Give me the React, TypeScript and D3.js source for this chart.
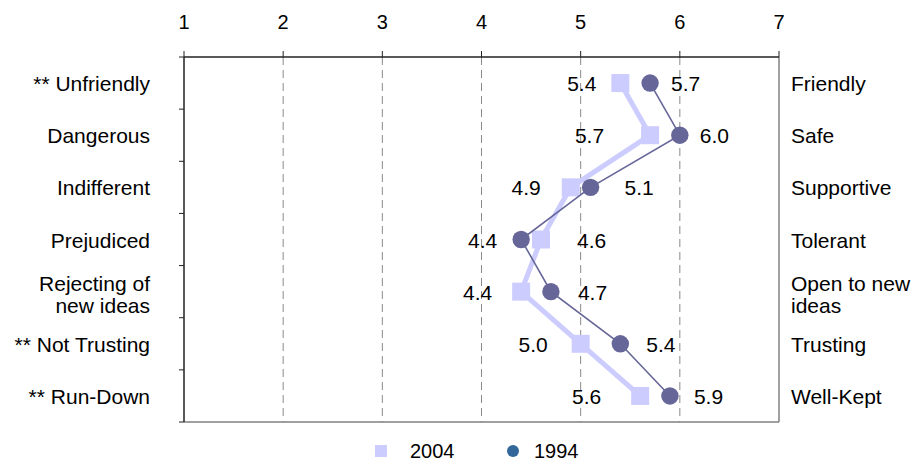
import React from "react";
import * as d3 from "d3";

const leftCategories = ["** Unfriendly", "Dangerous", "Indifferent", "Prejudiced", "Rejecting of\nnew ideas", "** Not Trusting", "** Run-Down"];
const rightCategories = ["Friendly", "Safe", "Supportive", "Tolerant", "Open to new\nideas", "Trusting", "Well-Kept"];
const values2004 = [5.4, 5.7, 4.9, 4.6, 4.4, 5.0, 5.6];
const values1994 = [5.7, 6.0, 5.1, 4.4, 4.7, 5.4, 5.9];
const xTicks = [1, 2, 3, 4, 5, 6, 7];
const seriesNames = ["2004", "1994"];

// layout: pixel gaps of value labels from markers (left label end / right label start)
const leftLabelGap = [24, 46, 30, 24, 29, 33, 39];
const rightLabelGap = [21, 20, 34, 36, 27, 26, 24];

const W = 912, H = 463;
const plot = { left: 184, right: 779, top: 57, bottom: 422 };
const FONT = "Arial, 'Liberation Sans', sans-serif";

export default function App() {
  const x = d3.scaleLinear().domain([1, 7]).range([plot.left, plot.right]);
  const y = d3.scaleBand<number>().domain(d3.range(leftCategories.length)).range([plot.top, plot.bottom]);
  const cy = (i: number) => (y(i) as number) + y.bandwidth() / 2;

  const line = d3.line<number>().x((v) => x(v)).y((_, i) => cy(i));

  const lightCol = "#CCCCFF";
  const darkCol = "#666699";

  const renderMulti = (txt: string, tx: number, ty: number, anchor: string, key: string) => {
    const lines = txt.split("\n");
    const base = lines.length > 1 ? ty - 1 : ty + 8;
    return (
      <text key={key} x={tx} y={base} textAnchor={anchor} fontSize={21} fontFamily={FONT} fill="#000">
        {lines.map((l, k) => (
          <tspan key={k} x={tx} dy={k === 0 ? 0 : 22}>{l}</tspan>
        ))}
      </text>
    );
  };

  return (
    <svg width={W} height={H} style={{ position: "absolute", left: 0, top: 0, background: "#fff" }}>
      {/* gridlines */}
      {xTicks.slice(1, -1).map((t) => (
        <line key={"g" + t} x1={x(t)} x2={x(t)} y1={plot.top} y2={plot.bottom} stroke="#8a8a8a" strokeWidth={1} strokeDasharray="8,5" />
      ))}
      {/* frame */}
      <line x1={plot.right} x2={plot.right} y1={plot.top} y2={plot.bottom} stroke="#808080" strokeWidth={1.5} />
      <line x1={plot.left} x2={plot.right} y1={plot.bottom} y2={plot.bottom} stroke="#808080" strokeWidth={1.5} />
      <line x1={plot.left} x2={plot.right} y1={plot.top} y2={plot.top} stroke="#222" strokeWidth={1.5} />
      <line x1={plot.left} x2={plot.left} y1={plot.top} y2={plot.bottom} stroke="#222" strokeWidth={1.5} />
      {/* top ticks */}
      {xTicks.map((t) => (
        <g key={"t" + t}>
          <line x1={x(t)} x2={x(t)} y1={plot.top - 6} y2={plot.top} stroke="#222" strokeWidth={1} />
          <text x={x(t)} y={29} textAnchor="middle" fontSize={20} fontFamily={FONT} fill="#000">{t}</text>
        </g>
      ))}
      {/* left ticks at band boundaries */}
      {d3.range(leftCategories.length + 1).map((i) => {
        const yy = plot.top + i * y.step();
        return <line key={"lt" + i} x1={plot.left - 5} x2={plot.left} y1={yy} y2={yy} stroke="#222" strokeWidth={1} />;
      })}
      {/* category labels */}
      {leftCategories.map((c, i) => renderMulti(c, 150, cy(i), "end", "lc" + i))}
      {rightCategories.map((c, i) => renderMulti(c, 791, cy(i), "start", "rc" + i))}
      {/* 2004 series */}
      <path d={line(values2004) as string} fill="none" stroke={lightCol} strokeWidth={5} strokeLinejoin="round" />
      {values2004.map((v, i) => (
        <rect key={"s" + i} x={x(v) - 9} y={cy(i) - 9} width={18} height={18} fill={lightCol} />
      ))}
      {/* 1994 series */}
      <path d={line(values1994) as string} fill="none" stroke={darkCol} strokeWidth={1.6} />
      {values1994.map((v, i) => (
        <circle key={"c" + i} cx={x(v)} cy={cy(i)} r={8.7} fill={darkCol} />
      ))}
      {/* value labels */}
      {values2004.map((v, i) => {
        const w = values1994[i];
        const lo = Math.min(v, w), hi = Math.max(v, w);
        return (
          <g key={"vl" + i}>
            <text x={x(lo) - leftLabelGap[i]} y={cy(i) + 8} textAnchor="end" fontSize={21} fontFamily={FONT} fill="#000">{lo.toFixed(1)}</text>
            <text x={x(hi) + rightLabelGap[i]} y={cy(i) + 8} textAnchor="start" fontSize={21} fontFamily={FONT} fill="#000">{hi.toFixed(1)}</text>
          </g>
        );
      })}
      {/* legend */}
      <rect x={375} y={445} width={12} height={12} fill={lightCol} />
      <text x={410} y={458} fontSize={20} fontFamily={FONT} fill="#000">{seriesNames[0]}</text>
      <circle cx={513} cy={451} r={6} fill="#336699" />
      <text x={534} y={458} fontSize={20} fontFamily={FONT} fill="#000">{seriesNames[1]}</text>
    </svg>
  );
}
